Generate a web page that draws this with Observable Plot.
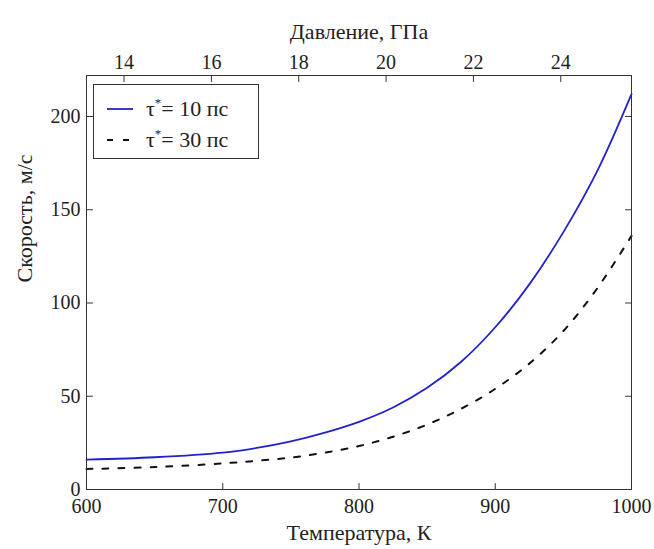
<!DOCTYPE html>
<html>
<head>
<meta charset="utf-8">
<script src="https://cdn.jsdelivr.net/npm/d3@7"></script>
<script src="https://cdn.jsdelivr.net/npm/@observablehq/plot@0.6"></script>
<style>
  html, body { margin: 0; padding: 0; background: white; }
  #wrap { position: relative; width: 654px; height: 549px; font-family: "Liberation Serif", "DejaVu Serif", serif; }
  #legend { position: absolute; left: 93px; top: 84px; width: 166px; height: 75px; border: 1px solid #333; background: white; box-sizing: border-box; font-family: "Liberation Serif", "DejaVu Serif", serif; }
  .row { position: absolute; left: 0; height: 30px; display: flex; align-items: center; font-size: 22px; color: #222; white-space: nowrap; }
  .row svg { margin-left: 13px; margin-right: 13px; }
  sup { font-size: 13px; position: relative; top: -1px; vertical-align: top; }
</style>
</head>
<body>
<div id="wrap"></div>
<script>
const temperature = [600, 650, 700, 725, 750, 775, 800, 825, 850, 875, 900, 925, 950, 975, 1000];
const speed10 = [16, 17.3, 19.8, 22.3, 25.8, 30.5, 36.3, 44, 54.5, 68.5, 87, 110, 138, 171, 212];
const speed30 = [11, 12, 14, 15.4, 17.1, 19.8, 23.3, 28.3, 34.8, 43.3, 54, 67.5, 85, 108, 136];
const xTicks = [600, 700, 800, 900, 1000];
const yTicks = [0, 50, 100, 150, 200];
const pressureTicks = [14, 16, 18, 20, 22, 24];
const pressureDomain = [13.14, 25.62];
const tempDomain = [600, 1000];
const seriesNames = ["τ*= 10 пс", "τ*= 30 пс"];

const FONT = "Liberation Serif";
const p2t = p => tempDomain[0] + (p - pressureDomain[0]) / (pressureDomain[1] - pressureDomain[0]) * (tempDomain[1] - tempDomain[0]);
const t2p = t => pressureDomain[0] + (t - tempDomain[0]) / (tempDomain[1] - tempDomain[0]) * (pressureDomain[1] - pressureDomain[0]);

const data10 = temperature.map((t, i) => ({t, v: speed10[i]}));
const data30 = temperature.map((t, i) => ({t, v: speed30[i]}));

const tickShape = {draw(context, l) { context.moveTo(0, 0); context.lineTo(0, -l); }};
const tickOpts = {length: 6, anchor: "start", shape: tickShape, stroke: "#333", strokeWidth: 1};

const chart = Plot.plot({
  width: 654,
  height: 549,
  marginLeft: 86,
  marginRight: 23,
  marginTop: 75,
  marginBottom: 60,
  style: {fontFamily: FONT, fontSize: "20px", color: "#222", background: "white", overflow: "visible"},
  x: {domain: tempDomain},
  y: {domain: [0, 222]},
  marks: [
    Plot.line(data10, {x: "t", y: "v", stroke: "#2222cc", strokeWidth: 1.8, curve: "catmull-rom"}),
    Plot.line(data30, {x: "t", y: "v", stroke: "#111", strokeWidth: 2, strokeDasharray: "6,10", curve: "catmull-rom"}),
    Plot.frame({stroke: "#333", strokeWidth: 1}),
    Plot.vector(xTicks, {x: d => d, y: 0, rotate: 0, ...tickOpts}),
    Plot.vector(pressureTicks.map(p2t), {x: d => d, y: 222, rotate: 180, ...tickOpts}),
    Plot.vector(yTicks, {x: 600, y: d => d, rotate: 90, ...tickOpts}),
    Plot.vector(yTicks, {x: 1000, y: d => d, rotate: -90, ...tickOpts}),
    Plot.axisX(xTicks, {anchor: "bottom", tickSize: 0, tickPadding: 9, label: null, tickFormat: d => String(d), fontFamily: FONT, fontSize: 20, fill: "#222"}),
    Plot.axisX(pressureTicks.map(p2t), {anchor: "top", tickSize: 0, tickPadding: 7, label: null, tickFormat: d => String(Math.round(t2p(d))), fontFamily: FONT, fontSize: 20, fill: "#222"}),
    Plot.axisY(yTicks, {anchor: "left", tickSize: 0, tickPadding: 6, label: null, fontFamily: FONT, fontSize: 20, fill: "#222"}),
    Plot.text(["Температура, К"], {frameAnchor: "bottom", dy: 50, fontSize: 22, fontFamily: FONT, fill: "#222"}),
    Plot.text(["Давление, ГПа"], {frameAnchor: "top", dy: -52, fontSize: 22, fontFamily: FONT, fill: "#222"}),
    Plot.text(["Скорость, м/с"], {frameAnchor: "left", dx: -62, rotate: -90, fontSize: 22, fontFamily: FONT, fill: "#222"})
  ]
});

const wrap = document.getElementById("wrap");
wrap.appendChild(chart);

const legend = document.createElement("div");
legend.id = "legend";
const styles = [{stroke: "#2222cc", dash: null, w: 1.8}, {stroke: "#111", dash: "6,10", w: 2}];
seriesNames.forEach((name, i) => {
  const row = document.createElement("div");
  row.className = "row";
  row.style.top = (i === 0 ? 9 : 40) + "px";
  const [tau, rest] = name.split("*");
  row.innerHTML = `<svg width="26" height="10"><line x1="0" x2="26" y1="5" y2="5" stroke="${styles[i].stroke}" stroke-width="${styles[i].w}" ${styles[i].dash ? `stroke-dasharray="${styles[i].dash}"` : ""}/></svg><span>${tau}<sup>*</sup>${rest}</span>`;
  legend.appendChild(row);
});
wrap.appendChild(legend);
</script>
</body>
</html>
